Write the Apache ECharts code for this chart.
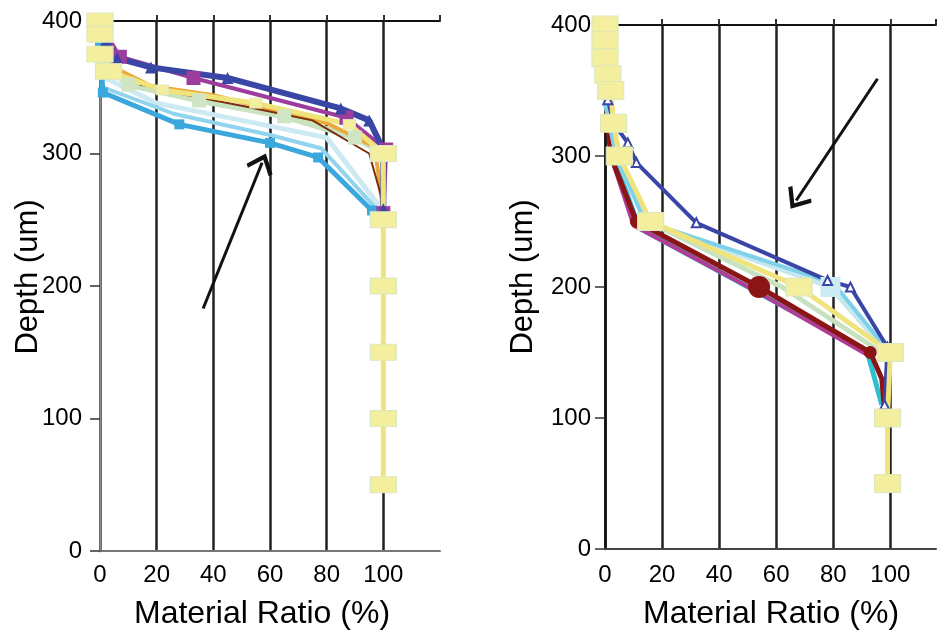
<!DOCTYPE html>
<html><head><meta charset="utf-8">
<script src="https://cdn.jsdelivr.net/npm/echarts/dist/echarts.min.js"></script>
<style>html,body{margin:0;padding:0;background:#fff}#c{width:939px;height:630px}</style>
</head><body><div id="c"></div>
<script>
// ---- tick labels ----
const xTickLabels = [0, 20, 40, 60, 80, 100];
const yTickLabels = [0, 100, 200, 300, 400];

// ---- left panel (x = material ratio %, y = depth um) ----
const L_lightcyan_x = [0, 1, 20, 50, 80, 98, 100];
const L_lightcyan_y = [385, 358, 338, 325, 312, 262, 250];
const L_lightblue_x = [0, 1, 26, 60, 78, 96, 100];
const L_lightblue_y = [388, 350, 330, 314, 304, 262, 250];
const L_cyan_x = [0, 1, 28, 60, 77, 96, 100];
const L_cyan_y = [385, 346, 322, 308, 297, 257, 250];
const L_palegreen_x = [0, 1, 10, 35, 65, 90, 100];
const L_palegreen_y = [395, 368, 352, 340, 328, 312, 300];
const L_orange_x = [0, 4, 18, 40, 80, 97, 100];
const L_orange_y = [392, 366, 351, 344, 323, 305, 255];
const L_brown_x = [14, 19, 26, 50, 75, 95, 100];
const L_brown_y = [352, 350, 346, 336, 325, 300, 262];
const L_purple_x = [0, 7, 33, 87, 101, 100];
const L_purple_y = [398, 373, 357, 327, 303, 255];
const L_blue_x = [0, 2, 6, 18, 45, 85, 95, 100, 100];
const L_blue_y = [400, 385, 372, 365, 357, 334, 325, 303, 258];
const L_yellow_x = [0, 0, 0, 3, 22, 55, 88, 100, 100, 100, 100, 100, 100];
const L_yellow_y = [400, 390, 375, 362, 348, 338, 322, 300, 250, 200, 150, 100, 50];

// ---- right panel ----
const R_cyan_x = [0, 3, 12, 45, 92, 97];
const R_cyan_y = [350, 300, 245, 206, 150, 110];
const R_magenta_x = [0, 2, 10, 52, 92];
const R_magenta_y = [350, 300, 247, 198, 148];
const R_darkred_x = [0, 0, 2, 11, 54, 93, 97, 98];
const R_darkred_y = [400, 350, 300, 250, 200, 150, 130, 105];
const R_palegreen_x = [0, 5, 15, 62, 97];
const R_palegreen_y = [345, 300, 250, 200, 150];
const R_palecyan_x = [0, 4, 14, 79, 99];
const R_palecyan_y = [345, 300, 250, 200, 150];
const R_lightblue_x = [0, 4, 14, 80, 99];
const R_lightblue_y = [340, 300, 250, 203, 152];
const R_blue_x = [0, 0, 1, 3, 8, 11, 32, 78, 86, 99, 98];
const R_blue_y = [400, 370, 343, 325, 310, 295, 249, 205, 200, 154, 110];
const R_yellow_x = [0, 0, 0, 1, 2, 3, 5, 16, 68, 100, 99, 99];
const R_yellow_y = [400, 388, 375, 362, 350, 325, 300, 250, 200, 150, 100, 50];

// ---- arrow annotations (data coords) ----
const L_arrow = [[36.4, 183], [57.2, 293]];
const R_arrow = [[95.5, 359], [67, 266]];

const FONT = 'Liberation Sans, Arial, sans-serif';
function pts(xs, ys) { return xs.map((x, i) => [x, ys[i]]); }
function mk(xs, ys, color, width, symbol, size, itemColor, panel, extra) {
  const s = {
    type: 'line', data: pts(xs, ys),
    xAxisIndex: panel === 0 ? 0 : 2, yAxisIndex: panel === 0 ? 0 : 2,
    lineStyle: { color: color, width: width },
    symbol: symbol, symbolSize: size, showSymbol: symbol !== 'none',
    itemStyle: { color: itemColor || color, borderWidth: 0 },
    silent: true, animation: false
  };
  return Object.assign(s, extra || {});
}
const chevron = 'path://M0,0L10,10L8,12L0,4L-8,12L-10,10Z';
function arrow(a) {
  return {
    silent: true, animation: false,
    symbol: ['none', chevron], symbolSize: [28, 20],
    lineStyle: { color: '#111', width: 3, type: 'solid' },
    label: { show: false },
    data: [[{ coord: a[0] }, { coord: a[1] }]]
  };
}
const pale = '#f4ef9e';
const palePale = { color: pale, borderColor: '#dbe8bf', borderWidth: 1 };

const series = [
  mk(L_lightcyan_x, L_lightcyan_y, '#cdeaf3', 5, 'none', 0, null, 0),
  mk(L_lightblue_x, L_lightblue_y, '#92d4ee', 4, 'none', 0, null, 0),
  mk(L_cyan_x, L_cyan_y, '#3aa8dc', 5, 'rect', 10, null, 0),
  mk(L_palegreen_x, L_palegreen_y, '#c9e2bf', 6, 'rect', 14, '#cfe5c4', 0),
  mk(L_orange_x, L_orange_y, '#eba93a', 4, 'none', 0, null, 0),
  mk(L_brown_x, L_brown_y, '#7a2e0e', 2, 'none', 0, null, 0),
  mk(L_purple_x, L_purple_y, '#9c3c9c', 4, 'rect', 14, null, 0),
  mk(L_blue_x, L_blue_y, '#3a46a6', 6, 'triangle', 12, null, 0, { markLine: arrow(L_arrow) }),
  mk(L_yellow_x, L_yellow_y, '#efe47c', 5, 'rect', [26, 16], pale, 0),

  mk(R_cyan_x, R_cyan_y, '#2fbfcf', 5, 'none', 0, null, 1),
  mk(R_magenta_x, R_magenta_y, '#b03c96', 4, 'none', 0, null, 1),
  mk(R_darkred_x, R_darkred_y, '#8b1515', 5, 'circle', 0, null, 1),
  mk(R_palegreen_x, R_palegreen_y, '#c8e2c0', 5, 'none', 0, null, 1),
  mk(R_palecyan_x, R_palecyan_y, '#c5e8ef', 5, 'rect', 0, '#cdebf2', 1),
  mk(R_lightblue_x, R_lightblue_y, '#7fd0ea', 4, 'none', 0, null, 1),
  mk(R_blue_x, R_blue_y, '#3a46a6', 4, 'triangle', 9, '#ffffff', 1, { markLine: arrow(R_arrow) }),
  mk(R_yellow_x, R_yellow_y, '#efe47c', 5, 'rect', [26, 18], pale, 1)
];
// dark red markers: visible round markers at 250, 200, 150
series[11].symbolSize = function (v) { return (v[1] === 200) ? 22 : ((v[1] === 250 || v[1] === 150) ? 13 : 0); };
// pale cyan square marker around 80 %
series[13].symbolSize = function (v) { return v[1] === 200 ? 20 : 0; };
// blue hollow triangles on right panel
series[15].itemStyle = { color: '#ffffff', borderColor: '#3a46a6', borderWidth: 2 };
// yellow markers: big squares except the middle of the left slope
series[8].itemStyle = palePale;
series[8].symbolSize = function (v) { return (v[0] > 5 && v[0] < 99) ? [12, 10] : [26, 16]; };
series[16].itemStyle = palePale;

function xBottom(grid, max, margin, axisColor) {
  return {
    type: 'value', gridIndex: grid, position: 'bottom', min: 0, max: max, interval: 20,
    axisLine: { show: true, onZero: false, lineStyle: { color: axisColor, width: 2 } },
    axisTick: { show: false },
    axisLabel: { show: true, color: '#000', fontSize: 24, fontFamily: FONT, margin: margin,
      formatter: v => (xTickLabels.indexOf(v) >= 0 ? String(v) : '') },
    splitLine: { show: true, showMaxLine: false, lineStyle: { color: '#222', width: 2.5 } }
  };
}
function xTop(grid, max) {
  return {
    type: 'value', gridIndex: grid, position: 'top', min: 0, max: max, interval: 20,
    axisLine: { show: true, onZero: false, lineStyle: { color: '#111', width: 2 } },
    axisTick: { show: true, inside: false, length: 6, lineStyle: { color: '#333', width: 2 } },
    axisLabel: { show: false }, splitLine: { show: false }
  };
}
function yLeft(grid, margin) {
  return {
    type: 'value', gridIndex: grid, position: 'left', min: 0, max: 400, interval: 100,
    axisLine: { show: true, onZero: false, lineStyle: { color: '#111', width: 2.5 } },
    axisTick: { show: true, inside: false, length: 10, lineStyle: { color: '#333', width: 1.5 } },
    axisLabel: { show: true, color: '#000', fontSize: 24, fontFamily: FONT, margin: margin,
      formatter: v => (yTickLabels.indexOf(v) >= 0 ? String(v) : '') },
    splitLine: { show: false }
  };
}

const option = {
  backgroundColor: '#ffffff',
  animation: false,
  grid: [
    { left: 100, right: 499, top: 21, bottom: 79 },
    { left: 605, right: 0, top: 25, bottom: 81 }
  ],
  xAxis: [
    xBottom(0, 120, 12, '#777'),
    xTop(0, 120),
    xBottom(1, 116, 14, '#444'),
    xTop(1, 116)
  ],
  yAxis: [
    yLeft(0, 18),
    { type: 'value', gridIndex: 0, position: 'right', min: 0, max: 400,
      axisLine: { show: true, lineStyle: { color: '#888', width: 2.5 } },
      axisTick: { show: false }, axisLabel: { show: false }, splitLine: { show: false } },
    yLeft(1, 14)
  ],
  graphic: [
    { type: 'text', x: 28, y: 277, rotation: Math.PI / 2,
      style: { text: 'Depth (um)', font: '31px ' + FONT, fill: '#000', textAlign: 'center', textVerticalAlign: 'middle' } },
    { type: 'text', x: 523, y: 277, rotation: Math.PI / 2,
      style: { text: 'Depth (um)', font: '31px ' + FONT, fill: '#000', textAlign: 'center', textVerticalAlign: 'middle' } },
    { type: 'text', x: 262, y: 614,
      style: { text: 'Material Ratio (%)', font: '32px ' + FONT, fill: '#000', textAlign: 'center', textVerticalAlign: 'middle' } },
    { type: 'text', x: 771, y: 614,
      style: { text: 'Material Ratio (%)', font: '32px ' + FONT, fill: '#000', textAlign: 'center', textVerticalAlign: 'middle' } }
  ],
  series: series
};
const chart = echarts.init(document.getElementById('c'), null, { renderer: 'canvas' });
chart.setOption(option);
</script>
</body></html>
